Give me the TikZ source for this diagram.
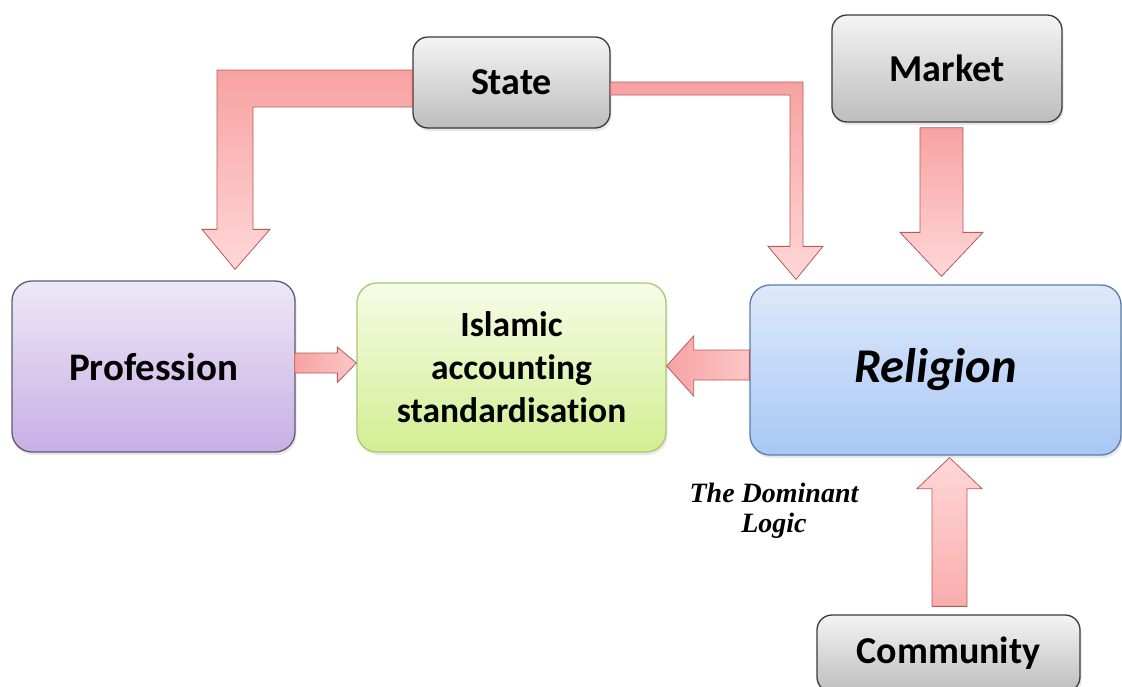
\documentclass[tikz,border=0pt]{standalone}
\usepackage{fontspec}
\setmainfont{Carlito}[Ligatures=CommonOff]
\newfontfamily\logicfont{Liberation Serif}
\usetikzlibrary{calc,shadows}

% box colours
\definecolor{grayTop}{HTML}{F4F4F4}
\definecolor{grayBot}{HTML}{BDBDBD}
\definecolor{grayEdge}{HTML}{3A3A3A}
\definecolor{profTop}{HTML}{EEE7F8}
\definecolor{profBot}{HTML}{C7AFE4}
\definecolor{profEdge}{HTML}{5F5A6E}
\definecolor{islTop}{HTML}{F6FCE6}
\definecolor{islBot}{HTML}{D3EE92}
\definecolor{islEdge}{HTML}{A9C873}
\definecolor{relTop}{HTML}{DDE9FB}
\definecolor{relBot}{HTML}{A8C7F4}
\definecolor{relEdge}{HTML}{5B7DA8}
% arrow colours
\definecolor{pinkDark}{HTML}{F7A2A2}
\definecolor{pinkLight}{HTML}{FFD7D7}
\definecolor{pinkEdge}{HTML}{B85A5A}

\tikzset{
  basebox/.style={draw, line width=1.3pt, rounded corners=20pt, align=center,
    inner sep=0pt, text=black,
    font=\bfseries\fontsize{38}{43}\selectfont,
    drop shadow={opacity=0.18, shadow xshift=1.5pt, shadow yshift=-3pt}},
  graybox/.style={basebox, rounded corners=15pt, draw=grayEdge,
    top color=grayTop, bottom color=grayBot},
  profbox/.style={basebox, draw=profEdge, top color=profTop, bottom color=profBot,
    font=\bfseries\fontsize{39}{43}\selectfont},
  islbox/.style={basebox, draw=islEdge, top color=islTop, bottom color=islBot,
    font=\bfseries\fontsize{35.5}{43}\selectfont},
  relbox/.style={basebox, draw=relEdge, top color=relTop, bottom color=relBot,
    font=\bfseries\itshape\fontsize{48.5}{56}\selectfont},
  flowv/.style={draw=pinkEdge, line width=0.8pt, line join=miter,
    top color=pinkDark, bottom color=pinkLight},
  flowvup/.style={draw=pinkEdge, line width=0.8pt, line join=miter,
    top color=pinkLight, bottom color=pinkDark!80!pinkLight},
  flowh/.style={draw=pinkEdge, line width=0.8pt, line join=miter,
    left color=pinkDark, right color=pinkLight!70!pinkDark},
}

\begin{document}
\begin{tikzpicture}[x=1pt,y=-1pt]
\useasboundingbox (0,0) rectangle (1122,686);
\clip (0,0) rectangle (1122,686);

% boxes
\node[graybox, minimum width=197pt, minimum height=91pt]  (state)  at (511.5,82.5) {State};
\node[graybox, minimum width=230pt, minimum height=107pt] (market) at (947,68.5)   {Market};
\node[profbox, minimum width=283pt, minimum height=171pt] (prof)   at (153.5,366.5) {Profession};
\node[islbox,  minimum width=309pt, minimum height=169pt] (islam)  at (511.5,367.5)
  {Islamic\\accounting\\standardisation};
\node[relbox,  minimum width=371pt, minimum height=170pt] (relig)  at (935.5,370) {Religion};
\node[graybox, minimum width=263pt, minimum height=77pt]  (comm)   at (948.5,653.5) {Community};

\node[font=\logicfont\bfseries\itshape\fontsize{28}{30}\selectfont, align=center]
  (logic) at (774,511) {The Dominant\\Logic};

% State -> Profession (wide bent arrow)
\coordinate (sp0)   at ($(state.west)+(0,-12.5)$);
\coordinate (sptip) at ($(prof.north)+(81.5,-11)$);
\draw[flowv] (sp0) -| ($(sptip)+(-18,-40)$) -- ++(-15,0) -- (sptip)
  -- ++(35,-40) -- ++(-17,0) |- ($(sp0)+(0,37)$) -- cycle;

% State -> Religion (narrow bent arrow)
\coordinate (sr0)   at ($(state.east)+(0,-0.5)$);
\coordinate (srtip) at ($(relig.north)+(-139.5,-5)$);
\draw[flowv] (sr0) -| ($(srtip)+(7,-33)$) -- ++(20,0) -- (srtip)
  -- ++(-28,-33) -- ++(22,0) |- ($(sr0)+(0,13)$) -- cycle;

% Market -> Religion
\coordinate (mr0)   at ($(market.south)+(-27,5)$);
\coordinate (mrtip) at ($(relig.north)+(6,-8)$);
\draw[flowv] (mr0) -- ++(43,0) -- ($(mrtip)+(21.5,-44)$) -- ++(20,0) -- (mrtip)
  -- ++(-41.5,-44) -- ++(20,0) -- cycle;

% Profession -> Islamic accounting standardisation
\coordinate (pi0)   at ($(prof.east)+(-1,-13.5)$);
\coordinate (pitip) at ($(islam.west)+(0,-4.5)$);
\draw[flowh] (pi0) -- ($(pitip)+(-19,-10)$) -- ++(0,-6) -- (pitip)
  -- ++(-19,19.5) -- ++(0,-9.5) -- ($(pi0)+(0,20)$) -- cycle;

% Religion -> Islamic accounting standardisation
\coordinate (ri0)   at ($(relig.west)+(0,-20)$);
\coordinate (ritip) at ($(islam.east)+(0,-1.5)$);
\draw[flowh] (ri0) -- ($(ritip)+(27,-16)$) -- ++(0,-14) -- (ritip)
  -- ++(27,30) -- ++(0,-16) -- ($(ri0)+(0,30)$) -- cycle;

% Community -> Religion
\coordinate (cr0)   at ($(comm.north)+(-16.5,-8)$);
\coordinate (crtip) at ($(relig.south)+(14,2)$);
\draw[flowvup] (cr0) -- ($(crtip)+(-17.5,31)$) -- ++(-15,0) -- (crtip)
  -- ++(32.5,31) -- ++(-15,0) -- ($(cr0)+(35,0)$) -- cycle;
\end{tikzpicture}
\end{document}
